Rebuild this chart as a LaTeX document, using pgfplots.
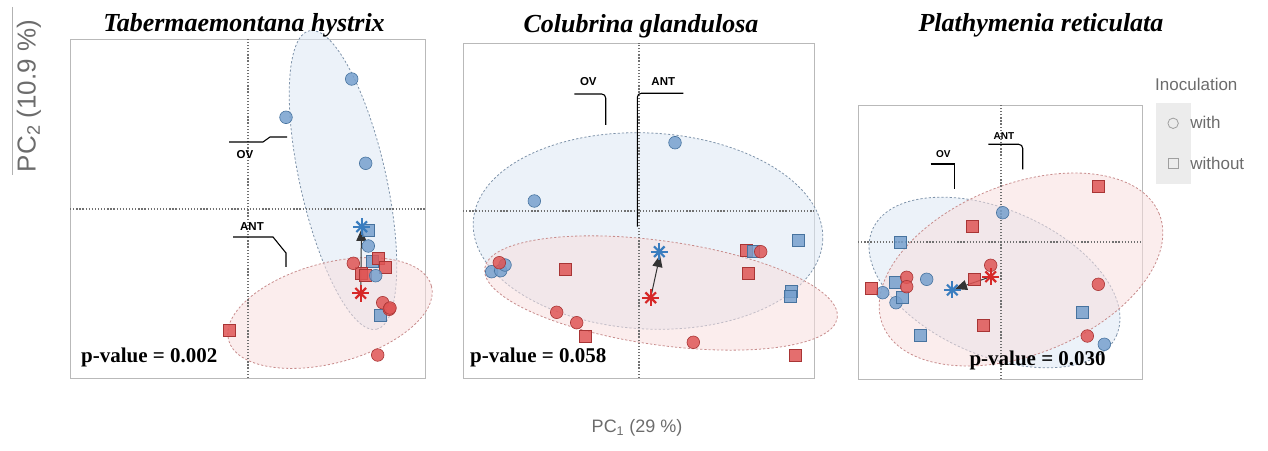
\documentclass[border=0pt]{standalone}
\usepackage{fontspec}
\setmainfont{Liberation Serif}
\setsansfont{Liberation Sans}
\usepackage{pgfplots}
\pgfplotsset{compat=1.18}
\usetikzlibrary{arrows.meta}

\definecolor{bfill}{HTML}{76A0CE}
\definecolor{bedge}{HTML}{47739F}
\definecolor{rfill}{HTML}{DF5555}
\definecolor{redge}{HTML}{A83535}
\definecolor{bell}{HTML}{DCE8F4}
\definecolor{rell}{HTML}{F8DEDE}
\definecolor{bellline}{HTML}{7F93AA}
\definecolor{rellline}{HTML}{C88C8C}
\definecolor{bstar}{HTML}{3A7DBF}
\definecolor{rstar}{HTML}{D62828}
\definecolor{dotc}{HTML}{707070}

\pgfplotsset{
  panel/.style={anchor=south west, scale only axis, axis lines=box,
    xtick=\empty, ytick=\empty, clip=false,
    axis line style={draw=gray!55, line width=0.9pt}},
  bc/.style={only marks, mark=*, mark size=6.3pt, forget plot,
    mark options={fill=bfill, draw=bedge, line width=0.6pt, fill opacity=0.85}},
  bs/.style={only marks, mark=square*, mark size=6pt, forget plot,
    mark options={fill=bfill, draw=bedge, line width=0.6pt, fill opacity=0.85}},
  rc/.style={only marks, mark=*, mark size=6.3pt, forget plot,
    mark options={fill=rfill, draw=redge, line width=0.6pt, fill opacity=0.85}},
  rs/.style={only marks, mark=square*, mark size=6pt, forget plot,
    mark options={fill=rfill, draw=redge, line width=0.6pt, fill opacity=0.85}},
  bsta/.style={only marks, mark=+, mark size=8.5pt, forget plot,
    mark options={draw=bstar, line width=2.2pt}},
  bstb/.style={only marks, mark=x, mark size=7.5pt, forget plot,
    mark options={draw=bstar, line width=2.2pt}},
  rsta/.style={only marks, mark=+, mark size=8.5pt, forget plot,
    mark options={draw=rstar, line width=2.2pt}},
  rstb/.style={only marks, mark=x, mark size=7.5pt, forget plot,
    mark options={draw=rstar, line width=2.2pt}},
  dotline/.style={dotc, line width=1.3pt, dash pattern=on 1.3pt off 1.8pt, forget plot},
  arr/.style={black!80, line width=1pt, -{Triangle[length=12pt,width=10pt]}, forget plot},
}
\tikzset{
  bellstyle/.style={fill=bell, fill opacity=0.55, draw=bellline, line width=0.8pt, dash pattern=on 2.2pt off 2pt, draw opacity=1},
  rellstyle/.style={fill=rell, fill opacity=0.55, draw=rellline, line width=0.8pt, dash pattern=on 2.2pt off 2pt, draw opacity=1},
  leader/.style={black, line width=1.1pt},
  lab/.style={font=\sffamily\bfseries\fontsize{11.5}{13}\selectfont, inner sep=0pt},
  pval/.style={font=\bfseries\fontsize{21}{24}\selectfont, anchor=base west, inner sep=0pt},
  ttl/.style={font=\bfseries\itshape\fontsize{26}{30}\selectfont, anchor=base, inner sep=0pt},
}

\begin{document}
\begin{tikzpicture}
\useasboundingbox (0pt,0pt) rectangle (1268pt,450pt);

% ---------------- Panel 1 ----------------
\begin{axis}[panel, at={(70pt,72pt)}, width=355pt, height=339pt,
  xmin=-1.78, xmax=1.77, ymin=-1.69, ymax=1.70]
\draw[bellstyle] (axis cs:0.95,0.29) ellipse [x radius=1.53, y radius=0.43, rotate=-77.3];
\draw[rellstyle] (axis cs:0.82,-1.04) ellipse [x radius=1.05, y radius=0.50, rotate=15];
\addplot[dotline] coordinates {(0,-1.69) (0,1.70)};
\addplot[dotline] coordinates {(-1.78,0) (1.77,0)};
\addplot[bc] coordinates {(1.037,1.30) (0.38,0.917) (1.177,0.457) (1.203,-0.37)};
\addplot[bs] coordinates {(1.20,-0.21) (1.243,-0.527) (1.32,-1.06)};
\addplot[rs] coordinates {(1.303,-0.493) (1.377,-0.587) (1.13,-0.643) (1.177,-0.66) (-0.187,-1.217)};
\addplot[bc] coordinates {(1.277,-0.667)};
\addplot[rc] coordinates {(1.053,-0.543) (1.347,-0.937) (1.413,-1.003) (1.42,-0.99) (1.297,-1.46)};
\addplot[bsta] coordinates {(1.137,-0.177)};
\addplot[bstb] coordinates {(1.137,-0.177)};
\addplot[rsta] coordinates {(1.127,-0.843)};
\addplot[rstb] coordinates {(1.127,-0.843)};
\addplot[arr] coordinates {(1.127,-0.80) (1.135,-0.20)};
\draw[leader] (axis cs:-0.19,0.67) -- (axis cs:0.15,0.67) -- (axis cs:0.22,0.72) -- (axis cs:0.39,0.72);
\node[lab] at (axis cs:-0.03,0.54) {OV};
\draw[leader] (axis cs:-0.15,-0.28) -- (axis cs:0.25,-0.28) -- (axis cs:0.38,-0.44) -- (axis cs:0.38,-0.58);
\node[lab] at (axis cs:0.04,-0.18) {ANT};
\node[pval] at (axis cs:-1.67,-1.53) {p-value = 0.002};
\end{axis}

% ---------------- Panel 2 ----------------
\begin{axis}[panel, at={(463pt,72pt)}, width=351pt, height=335pt,
  xmin=-1.76, xmax=1.75, ymin=-1.67, ymax=1.68]
\draw[bellstyle] (axis cs:0.09,-0.20) ellipse [x radius=1.75, y radius=0.98, rotate=-3];
\draw[rellstyle] (axis cs:0.22,-0.82) ellipse [x radius=1.78, y radius=0.52, rotate=-8];
\addplot[dotline] coordinates {(0,-1.67) (0,1.68)};
\addplot[dotline] coordinates {(-1.76,0) (1.75,0)};
\addplot[bc] coordinates {(0.36,0.683) (-1.047,0.10) (-1.473,-0.607) (-1.383,-0.597) (-1.34,-0.54)};
\addplot[rc] coordinates {(-1.397,-0.517) (-0.823,-1.013) (-0.623,-1.117) (0.543,-1.313)};
\addplot[rs] coordinates {(-0.733,-0.583) (-0.533,-1.25) (1.077,-0.397) (1.09,-0.623) (1.56,-1.447)};
\addplot[bs] coordinates {(1.143,-0.407) (1.593,-0.297) (1.527,-0.807) (1.51,-0.85)};
\addplot[rc] coordinates {(1.217,-0.407)};
\addplot[bsta] coordinates {(0.203,-0.407)};
\addplot[bstb] coordinates {(0.203,-0.407)};
\addplot[rsta] coordinates {(0.117,-0.867)};
\addplot[rstb] coordinates {(0.117,-0.867)};
\addplot[arr] coordinates {(0.125,-0.83) (0.21,-0.44)};
\draw[leader, rounded corners=4pt] (axis cs:-0.647,1.17) -- (axis cs:-0.333,1.17) -- (axis cs:-0.333,0.86);
\node[lab] at (axis cs:-0.507,1.293) {OV};
\draw[leader, rounded corners=4pt] (axis cs:0.443,1.177) -- (axis cs:-0.017,1.177) -- (axis cs:-0.017,-0.157);
\node[lab] at (axis cs:0.243,1.293) {ANT};
\node[pval] at (axis cs:-1.69,-1.51) {p-value = 0.058};
\end{axis}

% ---------------- Panel 3 ----------------
\begin{axis}[panel, at={(858pt,71pt)}, width=284pt, height=274pt,
  xmin=-1.43, xmax=1.41, ymin=-1.37, ymax=1.37,
  legend style={at={(axis description cs:1.049,1.007)}, anchor=north west,
    draw=none, fill=none, inner sep=0pt, outer sep=0pt, row sep=0pt,
    font=\sffamily\fontsize{17}{20}\selectfont, text=gray!85!black,
    nodes={inner sep=0pt},
    /tikz/every even column/.append style={column sep=9pt}},
  legend cell align=left]
\addlegendimage{legend image code/.code={\fill[gray!15] (0pt,-20pt) rectangle (34pt,20pt);
   \draw[gray!75, line width=0.8pt] (17pt,0pt) circle (5.2pt);}}
\addlegendentry{with}
\addlegendimage{legend image code/.code={\fill[gray!15] (0pt,-20pt) rectangle (34pt,20pt);
   \draw[gray!75, line width=0.8pt] (12pt,-5pt) rectangle (22pt,5pt);}}
\addlegendentry{without}
\draw[bellstyle] (axis cs:-0.065,-0.405) ellipse [x radius=1.33, y radius=0.73, rotate=-23.4];
\draw[rellstyle] (axis cs:0.20,-0.275) ellipse [x radius=1.49, y radius=0.85, rotate=21.9];
\addplot[dotline] coordinates {(0,-1.37) (0,1.37)};
\addplot[dotline] coordinates {(-1.43,0) (1.41,0)};
\addplot[bc] coordinates {(0.017,0.293) (-0.743,-0.373) (-1.183,-0.507) (-1.05,-0.607) (1.033,-1.023)};
\addplot[bs] coordinates {(-1.01,-0.003) (-1.06,-0.407) (-0.987,-0.557) (-0.81,-0.937) (0.817,-0.703)};
\addplot[rc] coordinates {(-0.943,-0.353) (-0.943,-0.447) (-0.103,-0.233) (0.973,-0.423) (0.863,-0.94)};
\addplot[rs] coordinates {(0.973,0.553) (-0.283,0.153) (-1.30,-0.463) (-0.27,-0.37) (-0.177,-0.837)};
\addplot[rsta] coordinates {(-0.103,-0.347)};
\addplot[rstb] coordinates {(-0.103,-0.347)};
\addplot[bsta] coordinates {(-0.487,-0.48)};
\addplot[bstb] coordinates {(-0.487,-0.48)};
\addplot[arr] coordinates {(-0.14,-0.36) (-0.46,-0.47)};
\draw[leader] (axis cs:-0.703,0.78) -- (axis cs:-0.467,0.78) -- (axis cs:-0.467,0.527);
\node[lab, font=\sffamily\bfseries\fontsize{10}{12}\selectfont] at (axis cs:-0.577,0.877) {OV};
\draw[leader, rounded corners=4pt] (axis cs:-0.127,0.977) -- (axis cs:0.217,0.977) -- (axis cs:0.217,0.727);
\node[lab, font=\sffamily\bfseries\fontsize{10}{12}\selectfont] at (axis cs:0.03,1.063) {ANT};
\node[pval] at (axis cs:-0.317,-1.23) {p-value = 0.030};
\end{axis}

% ---------------- Titles and labels ----------------
\node[ttl] at (244pt,418pt) {Tabermaemontana hystrix};
\node[ttl] at (641pt,417pt) {Colubrina glandulosa};
\node[ttl] at (1041pt,418pt) {Plathymenia reticulata};
\node[font=\sffamily\fontsize{17}{20}\selectfont, text=gray!85!black, anchor=west, inner sep=0pt] at (1155pt,366pt) {Inoculation};
\node[font=\sffamily\fontsize{26}{30}\selectfont, text=gray!85!black, rotate=90, inner sep=0pt] at (29pt,354pt) {PC\textsubscript{2} (10.9 \%)};
\draw[gray!60, line width=1pt] (12pt,443pt) -- (12pt,275pt);
\node[font=\sffamily\fontsize{18}{21}\selectfont, text=gray!85!black, inner sep=0pt] at (637pt,22pt) {PC\textsubscript{1} (29 \%)};
\end{tikzpicture}
\end{document}
